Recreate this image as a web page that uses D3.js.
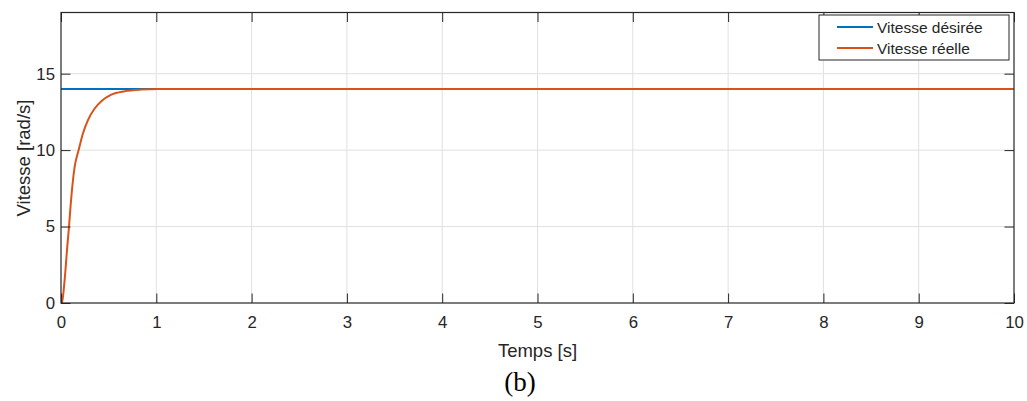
<!DOCTYPE html>
<html>
<head>
<meta charset="utf-8">
<script src="https://cdn.jsdelivr.net/npm/d3@7"></script>
<style>
  body { margin: 0; background: #fff; }
  text { font-family: "Liberation Sans", Arial, sans-serif; fill: #262626; }
</style>
</head>
<body>
<div id="chart"></div>
<script>
// Data
const timeDesired = [0, 10];
const speedDesired = [14, 14];

const timeReal = [0, 0.01, 0.038, 0.066, 0.084, 0.1, 0.12, 0.143, 0.185, 0.231, 0.283, 0.353, 0.423, 0.528, 0.668, 0.84, 1.02, 2, 10];
const speedReal = [0, 0.04, 1.5, 3.7, 5, 6.3, 7.7, 8.9, 10, 11.1, 11.96, 12.72, 13.2, 13.63, 13.85, 13.96, 14, 14, 14];

const xTicks = [0, 1, 2, 3, 4, 5, 6, 7, 8, 9, 10];
const yTicks = [0, 5, 10, 15];

const seriesNames = ['Vitesse désirée', 'Vitesse réelle'];
const seriesColors = ['#0072BD', '#D95319'];

const full_width = 1027, full_height = 401;
const margin = {top: 12.5, left: 61, right: 13, bottom: 98};
const width = full_width - margin.left - margin.right;
const height = full_height - margin.top - margin.bottom;
const tickLen = 9.5;
const axisColor = '#262626';

const svg = d3.select('#chart').append('svg')
    .attr('width', full_width)
    .attr('height', full_height);

const g = svg.append('g')
    .attr('transform', 'translate(' + margin.left + ',' + margin.top + ')');

const x = d3.scaleLinear().domain([0, 10]).range([0, width]);
const y = d3.scaleLinear().domain([0, 19]).range([height, 0]);

// grid
g.append('g').selectAll('line')
  .data(xTicks.slice(1, -1))
  .enter().append('line')
    .attr('x1', d => x(d)).attr('x2', d => x(d))
    .attr('y1', 0).attr('y2', height)
    .attr('stroke', '#e0e0e0').attr('stroke-width', 1);
g.append('g').selectAll('line')
  .data(yTicks.slice(1))
  .enter().append('line')
    .attr('x1', 0).attr('x2', width)
    .attr('y1', d => y(d)).attr('y2', d => y(d))
    .attr('stroke', '#e0e0e0').attr('stroke-width', 1);

// lines
const line = d3.line()
  .x(d => x(d[0]))
  .y(d => y(d[1]))
  .curve(d3.curveMonotoneX);

const desired = timeDesired.map((t, i) => [t, speedDesired[i]]);
const real = timeReal.map((t, i) => [t, speedReal[i]]);

g.append('path')
  .datum(desired)
  .attr('d', line)
  .attr('fill', 'none')
  .attr('stroke', seriesColors[0])
  .attr('stroke-width', 2);

g.append('path')
  .datum(real)
  .attr('d', line)
  .attr('fill', 'none')
  .attr('stroke', seriesColors[1])
  .attr('stroke-width', 2);

// axes (ticks inside, box on all sides)
g.append('g')
  .attr('transform', 'translate(0,' + height + ')')
  .call(d3.axisBottom(x).tickValues(xTicks).tickSizeInner(-tickLen).tickSizeOuter(0).tickPadding(13))
  .call(a => a.select('.domain').remove());
g.append('g')
  .call(d3.axisTop(x).tickValues(xTicks).tickSizeInner(-tickLen).tickSizeOuter(0).tickFormat(''))
  .call(a => a.select('.domain').remove());
g.append('g')
  .call(d3.axisLeft(y).tickValues(yTicks).tickSizeInner(-tickLen).tickSizeOuter(0).tickPadding(6))
  .call(a => a.select('.domain').remove());
g.append('g')
  .attr('transform', 'translate(' + width + ',0)')
  .call(d3.axisRight(y).tickValues(yTicks).tickSizeInner(-tickLen).tickSizeOuter(0).tickFormat(''))
  .call(a => a.select('.domain').remove());

g.selectAll('.tick line').attr('stroke', axisColor);
g.selectAll('.tick text')
  .attr('font-size', '16.8px')
  .attr('font-family', '"Liberation Sans", Arial, sans-serif')
  .attr('fill', axisColor);

g.append('rect')
  .attr('width', width).attr('height', height)
  .attr('fill', 'none')
  .attr('stroke', axisColor)
  .attr('stroke-width', 1.2);

// axis labels
svg.append('text')
  .attr('x', margin.left + width / 2)
  .attr('y', 357)
  .attr('text-anchor', 'middle')
  .attr('font-size', '18.5px')
  .text('Temps [s]');

svg.append('text')
  .attr('transform', 'translate(30,158) rotate(-90)')
  .attr('text-anchor', 'middle')
  .attr('font-size', '18.5px')
  .text('Vitesse [rad/s]');

svg.append('text')
  .attr('x', 520)
  .attr('y', 391)
  .attr('text-anchor', 'middle')
  .attr('font-size', '27px')
  .style('font-family', '"Liberation Serif", "DejaVu Serif", serif')
  .style('fill', '#000')
  .text('(b)');

// legend
const legend = svg.append('g').attr('transform', 'translate(819,15)');
legend.append('rect')
  .attr('width', 190).attr('height', 45)
  .attr('fill', '#fff')
  .attr('stroke', axisColor)
  .attr('stroke-width', 1);
seriesNames.forEach((name, i) => {
  const ly = 12 + i * 21;
  legend.append('line')
    .attr('x1', 18).attr('x2', 54)
    .attr('y1', ly).attr('y2', ly)
    .attr('stroke', seriesColors[i])
    .attr('stroke-width', 2);
  legend.append('text')
    .attr('x', 58).attr('y', ly + 5.5)
    .attr('font-size', '15.5px')
    .text(name);
});
</script>
</body>
</html>
